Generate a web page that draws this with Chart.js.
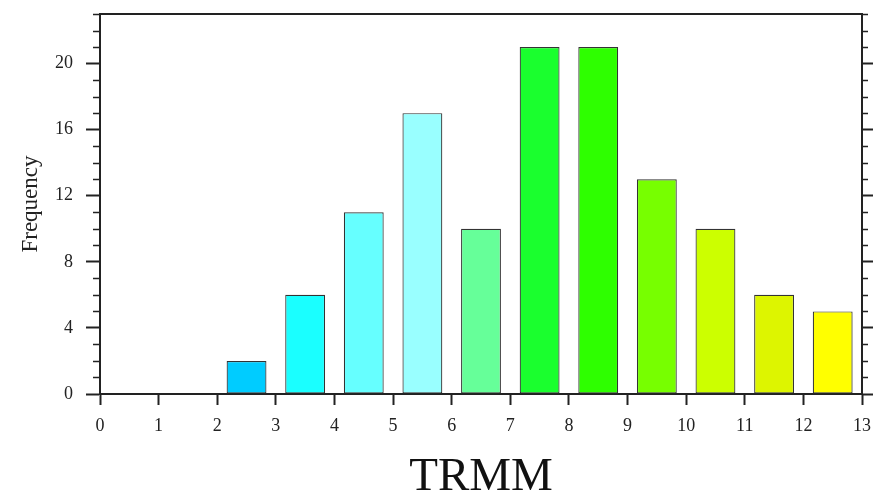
<!DOCTYPE html>
<html>
<head>
<meta charset="utf-8">
<script src="https://cdn.jsdelivr.net/npm/chart.js@4"></script>
<style>
  body { margin: 0; background: #fff; }
  #wrap { width: 875px; height: 502px; }
</style>
</head>
<body>
<div id="wrap"><canvas id="histChart"></canvas></div>
<script>
// bins run from each start value to start + 1
const binStarts = [0, 1, 2, 3, 4, 5, 6, 7, 8, 9, 10, 11, 12];
const frequency = [0, 0, 2, 6, 11, 17, 10, 21, 21, 13, 10, 6, 5];
const barColors = ['#0099ff', '#00b2ff', '#00ccff', '#1affff', '#66ffff', '#99ffff',
                   '#66ff99', '#1aff2e', '#2eff00', '#77ff00', '#ccff00', '#ddf500', '#ffff00'];
const xRange = [0, 13];
const yRange = [0, 23];
const yMajorStep = 4;

const serif = "'Liberation Serif', 'Times New Roman', serif";
const axisColor = '#222';

// NCL style minor ticks on both y axes
const minorTicks = {
    id: 'minorTicks',
    afterDraw(chart) {
        const ctx = chart.ctx;
        const yl = chart.scales.y;
        const yr = chart.scales.y2;
        ctx.save();
        ctx.strokeStyle = axisColor;
        ctx.lineWidth = 1.5;
        for (let v = yRange[0]; v <= yRange[1]; v++) {
            if (v % yMajorStep === 0) continue;
            const py = Math.round(yl.getPixelForValue(v)) + 0.5;
            ctx.beginPath();
            ctx.moveTo(yl.right - 7, py);
            ctx.lineTo(yl.right, py);
            ctx.moveTo(yr.left, py);
            ctx.lineTo(yr.left + 6, py);
            ctx.stroke();
        }
        ctx.restore();
    }
};

function noPad(scale) {
    scale.paddingLeft = 0;
    scale.paddingRight = 0;
    scale.paddingTop = 0;
    scale.paddingBottom = 0;
}

document.addEventListener("DOMContentLoaded", () => {
    const ctx = document.getElementById('histChart').getContext('2d');
    new Chart(ctx, {
        type: 'bar',
        data: {
            datasets: [{
                label: 'TRMM',
                data: binStarts.map((s, i) => ({ x: s + 0.5, y: frequency[i] })),
                backgroundColor: barColors,
                borderColor: '#333',
                borderWidth: 1.2,
                borderSkipped: false,
                barPercentage: 0.68,
                categoryPercentage: 1.0
            }]
        },
        options: {
            responsive: true,
            maintainAspectRatio: false,
            animation: false,
            layout: { padding: { top: 14, left: 0, right: 0, bottom: 0 } },
            plugins: {
                legend: { display: false },
                tooltip: { enabled: false }
            },
            scales: {
                x: {
                    type: 'linear',
                    position: 'bottom',
                    min: xRange[0],
                    max: xRange[1],
                    offset: false,
                    grid: { offset: false, drawOnChartArea: false, tickLength: 11, tickColor: axisColor, tickWidth: 2 },
                    border: { color: axisColor, width: 2 },
                    ticks: { stepSize: 1, color: axisColor, font: { family: serif, size: 18 }, padding: 10, maxRotation: 0 },
                    title: {
                        display: true,
                        text: 'TRMM',
                        color: '#111',
                        font: { family: serif, size: 47, lineHeight: 1 },
                        padding: { top: 0, bottom: 1 }
                    },
                    afterFit(scale) { scale.height = 108; noPad(scale); }
                },
                x2: {
                    type: 'linear',
                    position: 'top',
                    min: xRange[0],
                    max: xRange[1],
                    offset: false,
                    grid: { offset: false, drawOnChartArea: false, drawTicks: false },
                    border: { color: axisColor, width: 2 },
                    ticks: { display: false },
                    afterFit(scale) { scale.height = 0; noPad(scale); }
                },
                y: {
                    position: 'left',
                    min: yRange[0],
                    max: yRange[1],
                    grid: { drawOnChartArea: false, tickLength: 14, tickColor: axisColor, tickWidth: 2 },
                    border: { color: axisColor, width: 2 },
                    ticks: { stepSize: yMajorStep, includeBounds: false, color: axisColor, font: { family: serif, size: 18 }, padding: 13 },
                    title: {
                        display: true,
                        text: 'Frequency',
                        color: axisColor,
                        font: { family: serif, size: 23 },
                        padding: { top: 17, bottom: 0 }
                    },
                    afterFit(scale) { scale.width = 100; noPad(scale); }
                },
                y2: {
                    position: 'right',
                    min: yRange[0],
                    max: yRange[1],
                    grid: { drawOnChartArea: false, tickLength: 11, tickColor: axisColor, tickWidth: 2 },
                    border: { color: axisColor, width: 2 },
                    ticks: { stepSize: yMajorStep, includeBounds: false, display: false },
                    afterFit(scale) { scale.width = 13; noPad(scale); }
                }
            }
        },
        plugins: [minorTicks]
    });
});
</script>
</body>
</html>
